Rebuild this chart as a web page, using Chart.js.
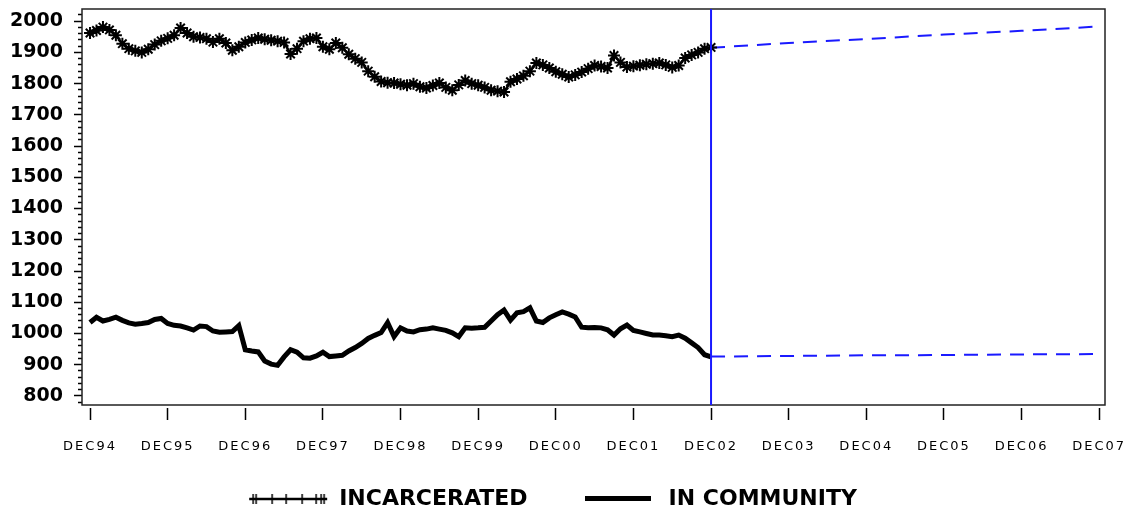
<!DOCTYPE html>
<html>
<head>
<meta charset="utf-8">
<script src="https://cdn.jsdelivr.net/npm/chart.js@4"></script>
<style>
  html, body { margin: 0; padding: 0; background: #fff; }
  #wrap { width: 1132px; height: 514px; }
</style>
</head>
<body>
<div id="wrap"><canvas id="myChart"></canvas></div>
<script>
// x values are months counted from DEC94 (0) to DEC07 (156)
const tickLabels = ['DEC94','DEC95','DEC96','DEC97','DEC98','DEC99','DEC00','DEC01','DEC02','DEC03','DEC04','DEC05','DEC06','DEC07'];

// monthly actuals DEC94 .. DEC02
const incarcerated = [
    1962,1970,1981,1972,1955,1928,1912,1905,1900,1910,1925,1937,
    1945,1955,1978,1962,1950,1948,1944,1933,1944,1930,1907,1918,
    1932,1940,1946,1942,1939,1936,1932,1895,1912,1936,1944,1946,
    1918,1910,1930,1915,1894,1880,1868,1840,1822,1807,1803,1802,
    1798,1795,1800,1790,1786,1794,1802,1788,1779,1796,1810,1800,
    1795,1788,1779,1776,1773,1806,1815,1825,1840,1866,1860,1850,
    1838,1830,1821,1828,1837,1848,1858,1855,1850,1890,1868,1853,
    1856,1859,1862,1864,1866,1860,1852,1858,1882,1892,1900,1912,
    1916
];
const community = [
    1035,1052,1040,1045,1052,1042,1034,1030,1032,1035,1045,1048,
    1032,1026,1024,1018,1011,1024,1022,1008,1004,1005,1006,1025,
    948,944,941,912,902,898,925,948,940,922,921,928,
    940,926,928,930,944,955,968,984,994,1003,1035,990,
    1018,1008,1005,1012,1014,1018,1014,1010,1002,990,1018,1017,
    1018,1020,1040,1060,1075,1043,1066,1070,1082,1040,1035,1050,
    1060,1069,1062,1053,1020,1018,1019,1018,1012,995,1015,1027,
    1010,1005,1000,995,995,993,990,995,985,970,955,932,
    925
];

// yearly forecast DEC02 .. DEC07
const forecastMonths = [96, 108, 120, 132, 144, 156];
const incarceratedForecast = [1915, 1930, 1943, 1957, 1969, 1983];
const communityForecast = [926, 928, 930, 931, 933, 934];
const forecastStart = 96;

const blue = '#1a1aff';

function makeIcon(w, h, draw) {
    const c = document.createElement('canvas');
    c.width = w; c.height = h;
    draw(c.getContext('2d'));
    return c;
}
const legendIcons = [
    makeIcon(80, 14, g => {
        g.strokeStyle = '#000';
        g.lineWidth = 2.5;
        g.beginPath(); g.moveTo(1, 7); g.lineTo(79, 7); g.stroke();
        g.lineWidth = 1.5;
        [4, 7, 23, 37, 53, 67, 72, 75].forEach(x => {
            g.beginPath(); g.moveTo(x + 1, 2); g.lineTo(x + 1, 12); g.stroke();
        });
    }),
    makeIcon(66, 6, g => { g.fillStyle = '#000'; g.fillRect(0, 0, 66, 5); })
];

const framePlugin = {
    id: 'frame',
    beforeDraw(chart) {
        // wider letter spacing for the x tick labels, and no clipping to the axis box
        const xs = chart.scales.x;
        if (!xs._spaced) {
            const orig = xs.drawLabels;
            xs._computeLabelArea = () => undefined;
            xs.drawLabels = function (area) {
                const c = this.ctx;
                c.save();
                c.letterSpacing = '2px';
                orig.call(this, area);
                c.restore();
            };
            xs._spaced = true;
        }
    },
    beforeDatasetsDraw(chart) {
        const {ctx, chartArea: a} = chart;
        ctx.save();
        ctx.strokeStyle = '#222';
        ctx.lineWidth = 1.5;
        ctx.strokeRect(a.left, a.top, a.right - a.left, a.bottom - a.top);
        ctx.restore();
    },
    afterDatasetsDraw(chart) {
        const {ctx, chartArea: a} = chart;
        const x = chart.scales.x.getPixelForValue(forecastStart);
        ctx.save();
        ctx.strokeStyle = blue;
        ctx.lineWidth = 2;
        ctx.beginPath(); ctx.moveTo(x, a.top); ctx.lineTo(x, a.bottom); ctx.stroke();
        ctx.restore();
    }
};

const toPoints = (xs, ys) => ys.map((v, i) => ({x: xs ? xs[i] : i, y: v}));

const chart = new Chart(document.getElementById('myChart'), {
    type: 'line',
    data: {
        datasets: [
            {
                label: 'INCARCERATED',
                data: toPoints(null, incarcerated),
                borderColor: '#000',
                backgroundColor: '#000',
                borderWidth: 2.5,
                tension: 0,
                pointStyle: 'star',
                pointRadius: 6,
                pointBorderWidth: 2,
                pointBorderColor: '#000'
            },
            {
                label: 'IN COMMUNITY',
                data: toPoints(null, community),
                borderColor: '#000',
                backgroundColor: '#000',
                borderWidth: 5,
                tension: 0,
                pointRadius: 0
            },
            {
                label: 'forecast incarcerated',
                data: toPoints(forecastMonths, incarceratedForecast),
                borderColor: blue,
                borderWidth: 2,
                borderDash: [14, 9],
                pointRadius: 0
            },
            {
                label: 'forecast community',
                data: toPoints(forecastMonths, communityForecast),
                borderColor: blue,
                borderWidth: 2,
                borderDash: [14, 9],
                pointRadius: 0
            }
        ]
    },
    options: {
        responsive: true,
        maintainAspectRatio: false,
        animation: false,
        devicePixelRatio: 1,
        layout: {padding: {top: 9, right: 27, bottom: -6, left: 0}},
        scales: {
            x: {
                type: 'linear',
                min: -1.24,
                max: 156.9,
                afterFit(s) { s.height = 33; s.paddingLeft = 0; s.paddingRight = 0; },
                border: {display: false},
                grid: {drawOnChartArea: false, tickLength: 15, tickColor: '#000', tickWidth: 1.5, tickBorderDash: [0, 3, 12, 0]},
                ticks: {
                    stepSize: 12, autoSkip: false, includeBounds: false, maxRotation: 0,
                    padding: 19, color: '#000',
                    font: {family: 'DejaVu Sans', size: 13},
                    callback: v => tickLabels[Math.round(v / 12)]
                }
            },
            y: {
                min: 771,
                max: 2039,
                afterFit(s) { s.width = 82; s.paddingTop = 0; s.paddingBottom = 0; },
                border: {display: false},
                grid: {
                    drawOnChartArea: false, tickLength: 8, tickColor: '#000', tickWidth: 1.5,
                    tickBorderDash: ctx => (ctx.tick && Math.round(ctx.tick.value) % 100 === 0) ? [] : [0, 4, 4, 0]
                },
                ticks: {
                    stepSize: 20, autoSkip: false, includeBounds: false,
                    padding: 11, color: '#000',
                    font: {family: 'DejaVu Sans', weight: 'bold', size: 19},
                    callback: v => Math.round(v) % 100 === 0 ? String(Math.round(v)) : ''
                }
            }
        },
        plugins: {
            tooltip: {enabled: false},
            legend: {
                position: 'bottom',
                labels: {
                    usePointStyle: true,
                    pointStyleWidth: 80,
                    padding: 50,
                    color: '#000',
                    font: {family: 'DejaVu Sans', weight: 'bold', size: 22},
                    generateLabels(chart) {
                        const items = Chart.defaults.plugins.legend.labels.generateLabels(chart)
                            .filter(it => it.datasetIndex < 2);
                        items.forEach(it => { it.pointStyle = legendIcons[it.datasetIndex]; });
                        return items;
                    }
                }
            }
        }
    },
    plugins: [framePlugin]
});
chart.draw();
</script>
</body>
</html>
